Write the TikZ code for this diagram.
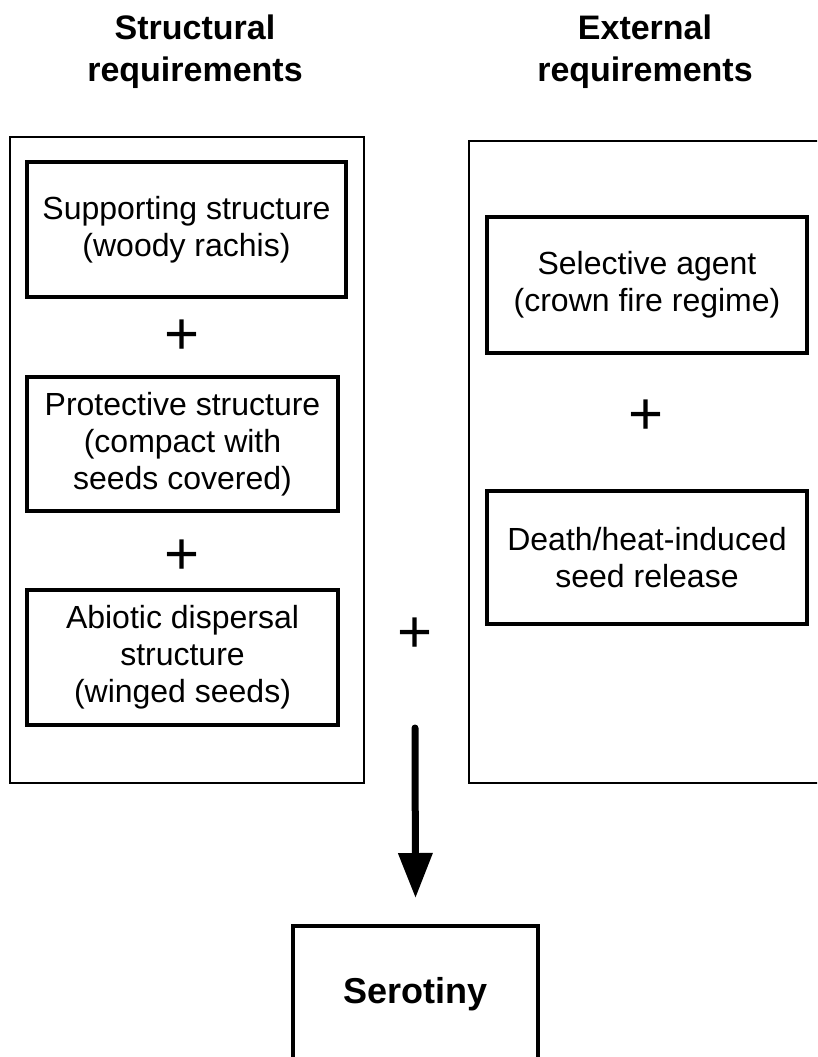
\documentclass[tikz,border=0pt]{standalone}
\usepackage{fontspec}
\setmainfont{Liberation Sans}
\usetikzlibrary{arrows.meta}

\begin{document}
\begin{tikzpicture}[x=1pt,y=-1pt,
  outerbox/.style={draw, line width=2pt, inner sep=0pt},
  reqbox/.style={draw, line width=4pt, align=center, inner sep=0pt, font=\fontsize{32}{37}\selectfont},
  plussign/.style={font=\fontsize{60}{60}\selectfont, inner sep=0pt},
  heading/.style={align=center, font=\fontsize{34}{42}\selectfont\bfseries}]
\useasboundingbox (0,0) rectangle (817,1057);
\clip (0,0) rectangle (817,1057);
% headings
\node[heading] (structhead) at (195,52) {Structural\\requirements};
\node[heading] (exthead) at (645,52) {External\\requirements};
% the two columns
\node[outerbox, minimum width=354.5pt, minimum height=646pt] (structbox) at (186.75,460) {};
\node[outerbox, minimum width=371pt, minimum height=642pt] (extbox) at (654.5,462) {};
\node[reqbox, minimum width=319pt, minimum height=135pt] (support) at (186.5,229.5) {Supporting structure\\(woody rachis)};
\node[reqbox, minimum width=311pt, minimum height=134pt] (protect) at (182.5,444) {Protective structure\\(compact with\\seeds covered)};
\node[reqbox, minimum width=311pt, minimum height=135pt] (abiotic) at (182.5,657.5) {Abiotic dispersal\\structure\\(winged seeds)};
\node[reqbox, minimum width=320pt, minimum height=136pt] (agent) at (647,285) {Selective agent\\(crown fire regime)};
\node[reqbox, minimum width=320pt, minimum height=133pt] (release) at (647,557.5) {Death/heat-induced\\seed release};
\foreach \p/\x/\y in {plusa/182/337, plusb/182/557, plusc/646/417, plusd/415/635}
  \node[plussign] (\p) at (\x,\y) {+};
% result
\node[reqbox, font=\fontsize{36}{40}\selectfont\bfseries, minimum width=245pt, minimum height=136pt] (sero) at (415.5,994) {Serotiny};
\coordinate (arrtop) at (415,728);
\draw[line width=7pt, line cap=round, -{Triangle[width=33pt,length=45pt]}] (arrtop) -- ([yshift=26pt]sero.north);
\end{tikzpicture}
\end{document}
